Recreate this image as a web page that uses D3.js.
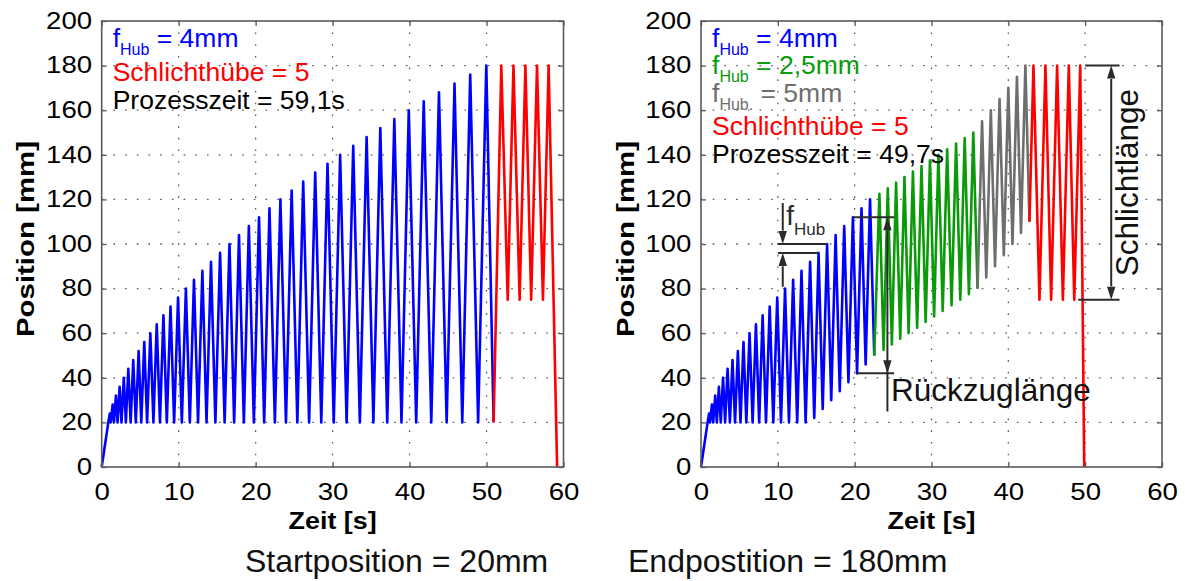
<!DOCTYPE html>
<html>
<head>
<meta charset="utf-8">
<script src="https://cdn.jsdelivr.net/npm/d3@7/dist/d3.min.js"></script>
<style>
  html, body { margin: 0; padding: 0; background: #fff; }
  svg { display: block; }
  text { font-family: "Liberation Sans", Arial, Helvetica, sans-serif; }
</style>
</head>
<body>
<svg id="chart" width="1185" height="581"></svg>
<script>
// ---------- axes ----------
const timeTicks = [0, 10, 20, 30, 40, 50, 60];
const posTicks = [0, 20, 40, 60, 80, 100, 120, 140, 160, 180, 200];

// ---------- approach from 0 to the start position (both runs) ----------
const approachT = [0, 0.86];
const approachP = [0, 20];

// ---------- left run: constant feed f_Hub = 4 mm, every stroke returns to 20 mm ----------
const leftBluePeakT = [1.05, 1.42, 1.85, 2.33, 2.87, 3.46, 4.10, 4.80, 5.53, 6.32,
  7.15, 8.02, 8.94, 9.92, 10.94, 11.99, 13.08, 14.20, 15.38, 16.60,
  17.84, 19.12, 20.44, 21.80, 23.22, 24.68, 26.18, 27.74, 29.34, 30.98,
  32.68, 34.42, 36.20, 38.02, 39.90, 41.84, 43.82, 45.84, 47.88, 49.97];
const leftBluePeakP = [24, 28, 32, 36, 40, 44, 48, 52, 56, 60,
  64, 68, 72, 76, 80, 84, 88, 92, 96, 100,
  104, 108, 112, 116, 120, 124, 128, 132, 136, 140,
  144, 148, 152, 156, 160, 164, 168, 172, 176, 180];
const leftBlueTroughT = [1.17, 1.59, 2.06, 2.57, 3.14, 3.76, 4.43, 5.14, 5.90, 6.72,
  7.57, 8.46, 9.41, 10.41, 11.45, 12.52, 13.62, 14.77, 15.97, 17.21,
  18.47, 19.77, 21.11, 22.50, 23.94, 25.42, 26.95, 28.53, 30.15, 31.82,
  33.54, 35.30, 37.10, 38.95, 40.86, 42.82, 44.82, 46.85, 48.91, 50.92];
const leftBlueTroughP = [20, 20, 20, 20, 20, 20, 20, 20, 20, 20,
  20, 20, 20, 20, 20, 20, 20, 20, 20, 20,
  20, 20, 20, 20, 20, 20, 20, 20, 20, 20,
  20, 20, 20, 20, 20, 20, 20, 20, 20, 20];
// finishing strokes (Schlichthübe) and retract
const leftRedT = [50.92, 51.92, 52.75, 53.50, 54.30, 55.05, 55.80, 56.56, 57.33, 58.07, 59.17];
const leftRedP = [20, 180, 75, 180, 75, 180, 75, 180, 75, 180, 0];

// ---------- right run: limited retract length, feed 4 / 2.5 / 5 mm ----------
const rightBluePeakT = [1.05, 1.42, 1.85, 2.33, 2.87, 3.46, 4.10, 4.80, 5.53, 6.32,
  7.15, 8.02, 8.94, 9.92, 10.94, 11.99, 13.08, 14.20, 15.30, 16.41,
  17.52, 18.64, 19.77, 20.89, 22.00];
const rightBluePeakP = [24, 28, 32, 36, 40, 44, 48, 52, 56, 60,
  64, 68, 72, 76, 80, 84, 88, 92, 96, 100,
  104, 108, 112, 116, 120];
const rightBlueTroughT = [1.17, 1.59, 2.06, 2.57, 3.14, 3.76, 4.43, 5.14, 5.90, 6.72,
  7.57, 8.46, 9.41, 10.41, 11.45, 12.52, 13.62, 14.74, 15.84, 16.95,
  18.06, 19.19, 20.31, 21.43, 22.55];
const rightBlueTroughP = [20, 20, 20, 20, 20, 20, 20, 20, 20, 20,
  20, 20, 20, 20, 20, 20, 20, 22, 26, 30,
  34, 38, 42, 46, 50];

const rightGreenStartT = [22.55];
const rightGreenStartP = [50];
const rightGreenPeakT = [23.22, 24.31, 25.39, 26.48, 27.58, 28.70, 29.80, 30.90, 32.04, 33.20, 34.32, 35.44];
const rightGreenPeakP = [122.5, 125, 127.5, 130, 132.5, 135, 137.5, 140, 142.5, 145, 147.5, 150];
const rightGreenTroughT = [23.76, 24.84, 25.93, 27.02, 28.13, 29.24, 30.34, 31.46, 32.61, 33.75, 34.87, 35.99];
const rightGreenTroughP = [52.5, 55, 57.5, 60, 62.5, 65, 67.5, 70, 72.5, 75, 77.5, 80];

const rightGrayStartT = [35.99];
const rightGrayStartP = [80];
const rightGrayPeakT = [36.58, 37.72, 38.86, 40.00, 41.12, 42.22];
const rightGrayPeakP = [155, 160, 165, 170, 175, 180];
const rightGrayTroughT = [37.13, 38.27, 39.41, 40.54, 41.65, 42.75];
const rightGrayTroughP = [85, 90, 95, 100, 105, 110];

const rightRedT = [42.75, 43.27, 44.05, 44.83, 45.57, 46.35, 47.10, 47.87, 48.58, 49.36, 49.88];
const rightRedP = [110, 180, 75, 180, 75, 180, 75, 180, 75, 180, 0];

// ---------- colours ----------
const cBlue = "#0000ff", cRed = "#ff0000", cGreen = "#0a9a0a", cGray = "#6e6e6e";
const axisColor = "#5a5a5a";
const annColor = "#2b2b2b";

// ---------- helpers ----------
function strokes(leadT, leadP, peakT, peakP, troughT, troughP) {
  const pts = leadT.map((t, i) => [t, leadP[i]]);
  peakT.forEach((t, i) => {
    pts.push([t, peakP[i]]);
    pts.push([troughT[i], troughP[i]]);
  });
  return pts;
}

const svg = d3.select("#chart");
const yRange = [467, 21];

function drawPanel(cfg) {
  const x = d3.scaleLinear().domain([0, 60]).range(cfg.xRange);
  const y = d3.scaleLinear().domain([0, 200]).range(yRange);
  const g = svg.append("g");
  const [x0, x1] = cfg.xRange;
  const [y0, y1] = yRange;

  // dotted grid
  const grid = g.append("g").attr("stroke", "#5a5a5a").attr("stroke-width", 1.3)
    .attr("stroke-dasharray", "1.6 10.1");
  grid.selectAll("line.v").data(timeTicks.filter(d => d > 0 && d < 60)).join("line")
    .attr("class", "v")
    .attr("x1", d => x(d)).attr("x2", d => x(d)).attr("y1", y0).attr("y2", y1);
  grid.selectAll("line.h").data(posTicks.filter(d => d > 0 && d < 200)).join("line")
    .attr("class", "h")
    .attr("x1", x0).attr("x2", x1).attr("y1", d => y(d)).attr("y2", d => y(d));

  // traces
  const line = d3.line().x(d => x(d[0])).y(d => y(d[1]));
  cfg.series.forEach(s => {
    g.append("path").datum(s.pts)
      .attr("d", line)
      .attr("fill", "none")
      .attr("stroke", s.color)
      .attr("stroke-width", 2.6)
      .attr("stroke-linejoin", "round");
  });

  // axes with inward ticks on all four sides
  const styleAxis = sel => sel.attr("color", axisColor)
    .attr("font-family", "'Liberation Sans', Arial, sans-serif");
  const gb = g.append("g").attr("transform", `translate(0,${y0})`)
    .call(d3.axisBottom(x).tickValues(timeTicks).tickSize(-5).tickSizeOuter(0).tickPadding(17))
    .call(styleAxis);
  gb.selectAll("text").attr("font-size", 23).attr("fill", "#000").attr("transform", "scale(1.2,1)");
  const gl = g.append("g").attr("transform", `translate(${x0},0)`)
    .call(d3.axisLeft(y).tickValues(posTicks).tickSize(-5).tickSizeOuter(0).tickPadding(8))
    .call(styleAxis);
  gl.selectAll("text").attr("font-size", 23).attr("fill", "#000").attr("transform", "scale(1.2,1)");
  g.append("g").attr("transform", `translate(0,${y1})`)
    .call(d3.axisTop(x).tickValues(timeTicks).tickSize(-5).tickSizeOuter(0).tickFormat(""))
    .call(styleAxis);
  g.append("g").attr("transform", `translate(${x1},0)`)
    .call(d3.axisRight(y).tickValues(posTicks).tickSize(-5).tickSizeOuter(0).tickFormat(""))
    .call(styleAxis);
  g.selectAll(".domain").remove();
  g.selectAll(".tick line").attr("stroke-width", 1.3);

  // box
  g.append("rect").attr("x", x0).attr("y", y1).attr("width", x1 - x0).attr("height", y0 - y1)
    .attr("fill", "none").attr("stroke", axisColor).attr("stroke-width", 1.6);

  // axis titles
  g.append("text")
    .attr("x", (x0 + x1) / 2).attr("y", 529)
    .attr("text-anchor", "middle").attr("font-weight", "bold").attr("font-size", 23)
    .attr("textLength", 88).attr("lengthAdjust", "spacingAndGlyphs")
    .text("Zeit [s]");
  g.append("text")
    .attr("transform", `translate(${x0 - 67.5},239) rotate(-90)`)
    .attr("text-anchor", "middle").attr("font-weight", "bold").attr("font-size", 23)
    .attr("textLength", 196).attr("lengthAdjust", "spacingAndGlyphs")
    .text("Position [mm]");

  // text block in the upper left corner
  cfg.notes.forEach(n => {
    const t = g.append("text").attr("x", x0 + 11).attr("y", n.y)
      .attr("font-size", 26.5).attr("fill", n.color);
    if (n.sub) {
      t.append("tspan").text("f");
      t.append("tspan").attr("font-size", 16).attr("dy", 8).text(n.sub);
      t.append("tspan").attr("dy", -8).text(" " + n.text);
    } else {
      t.text(n.text);
    }
  });

  return { g, x, y };
}

function arrowHead(g, xTip, yTip, dir) {
  // dir = -1 points up, +1 points down
  const len = 13, hw = 4.2;
  g.append("path")
    .attr("d", `M${xTip},${yTip} L${xTip - hw},${yTip - dir * len} L${xTip + hw},${yTip - dir * len} Z`)
    .attr("fill", annColor);
}

// ---------- left panel ----------
drawPanel({
  xRange: [101.7, 563.5],
  series: [
    { color: cBlue, pts: strokes(approachT, approachP, leftBluePeakT, leftBluePeakP, leftBlueTroughT, leftBlueTroughP) },
    { color: cRed, pts: d3.zip(leftRedT, leftRedP) }
  ],
  notes: [
    { y: 46.5, color: cBlue, sub: "Hub", text: "= 4mm" },
    { y: 80.5, color: cRed, text: "Schlichthübe = 5" },
    { y: 108.5, color: "#000", text: "Prozesszeit = 59,1s" }
  ]
});

// ---------- right panel ----------
const R = drawPanel({
  xRange: [701, 1162],
  series: [
    { color: cBlue, pts: strokes(approachT, approachP, rightBluePeakT, rightBluePeakP, rightBlueTroughT, rightBlueTroughP) },
    { color: cGreen, pts: strokes(rightGreenStartT, rightGreenStartP, rightGreenPeakT, rightGreenPeakP, rightGreenTroughT, rightGreenTroughP) },
    { color: cGray, pts: strokes(rightGrayStartT, rightGrayStartP, rightGrayPeakT, rightGrayPeakP, rightGrayTroughT, rightGrayTroughP) },
    { color: cRed, pts: d3.zip(rightRedT, rightRedP) }
  ],
  notes: [
    { y: 46.5, color: cBlue, sub: "Hub", text: "= 4mm" },
    { y: 74, color: cGreen, sub: "Hub", text: "= 2,5mm" },
    { y: 101.5, color: cGray, sub: "Hub.", text: "= 5mm" },
    { y: 135, color: cRed, text: "Schlichthübe = 5" },
    { y: 163, color: "#000", text: "Prozesszeit = 49,7s" }
  ]
});

// ---------- dimension annotations in the right panel ----------
(function () {
  const { g, x, y } = R;
  const a = g.append("g").attr("stroke", annColor).attr("stroke-width", 2).attr("fill", "none");
  const seg = (t1, p1, t2, p2) => a.append("line")
    .attr("x1", x(t1)).attr("y1", y(p1)).attr("x2", x(t2)).attr("y2", y(p2));

  // feed per stroke: distance between two successive reversal points
  const fx = 10.64;
  seg(10.03, 100, 16.41, 100);
  seg(10.03, 96, 15.30, 96);
  seg(fx, 118.4, fx, 106);
  arrowHead(g, x(fx), y(100), 1);
  seg(fx, 80.8, fx, 90);
  arrowHead(g, x(fx), y(96), -1);
  const ft = g.append("text").attr("x", x(11.1)).attr("y", y(108.6))
    .attr("font-size", 28).attr("fill", annColor);
  ft.append("tspan").text("f");
  ft.append("tspan").attr("font-size", 17).attr("dy", 10).text("Hub");

  // retract length
  const rx = 24.26;
  seg(19.77, 112, 25.13, 112);
  seg(20.31, 42, 25.13, 42);
  seg(rx, 106, rx, 24.9);
  arrowHead(g, x(rx), y(112), -1);
  arrowHead(g, x(rx), y(42), 1);
  g.append("text").attr("x", x(24.74)).attr("y", y(29.7))
    .attr("font-size", 31.5).attr("fill", "#111").text("Rückzuglänge");

  // finishing length
  const sx = 53.39;
  seg(50.0, 180, 54.47, 180);
  seg(49.09, 75, 54.47, 75);
  seg(sx, 174, sx, 81);
  arrowHead(g, x(sx), y(180), -1);
  arrowHead(g, x(sx), y(75), 1);
  g.append("text")
    .attr("transform", `translate(${x(56.9)},${y(127.5)}) rotate(-90)`)
    .attr("text-anchor", "middle").attr("font-size", 31.5).attr("fill", "#111")
    .text("Schlichtlänge");
})();

// ---------- captions ----------
svg.append("text").attr("x", 245).attr("y", 572).attr("font-size", 32).attr("fill", "#111")
  .text("Startposition = 20mm");
svg.append("text").attr("x", 628).attr("y", 572).attr("font-size", 32).attr("fill", "#111")
  .text("Endpostition = 180mm");
</script>
</body>
</html>
